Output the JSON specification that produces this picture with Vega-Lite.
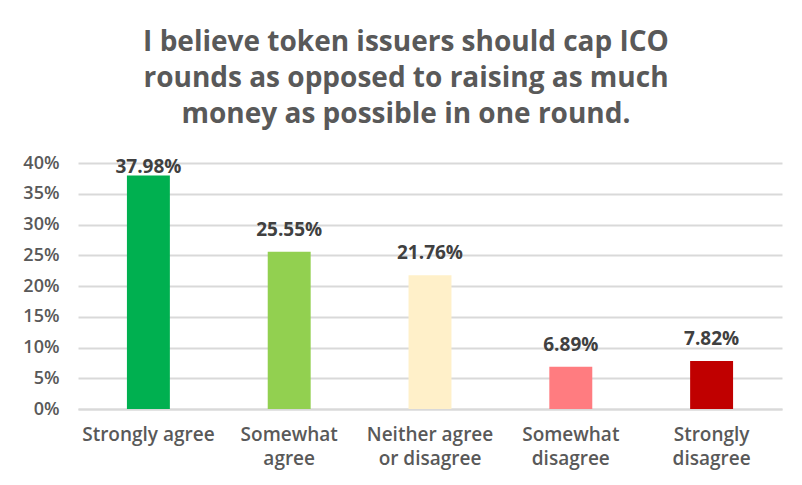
{
  "$schema": "https://vega.github.io/schema/vega-lite/v6.json",
  "width": 704,
  "height": 246,
  "autosize": {"type": "none"},
  "padding": {"left": 78, "top": 163, "right": 20, "bottom": 76},
  "background": "white",
  "config": {"view": {"stroke": null}},
  "title": {
    "text": ["I believe token issuers should cap ICO", "rounds as opposed to raising as much", "money as possible in one round."],
    "font": "Open Sans",
    "fontSize": 28,
    "fontWeight": "bold",
    "color": "#595959",
    "lineHeight": 36,
    "anchor": "middle",
    "dx": -24,
    "offset": 25
  },
  "data": {
    "values": [
      {"category": "Strongly agree", "share": 0.3798},
      {"category": "Somewhat agree", "share": 0.2555},
      {"category": "Neither agree or disagree", "share": 0.2176},
      {"category": "Somewhat disagree", "share": 0.0689},
      {"category": "Strongly disagree", "share": 0.0782}
    ]
  },
  "encoding": {
    "x": {
      "field": "category",
      "type": "nominal",
      "sort": null,
      "scale": {"paddingInner": 0.695, "paddingOuter": 0.3475},
      "axis": {
        "title": null,
        "labelAngle": 0,
        "labelFont": "Open Sans",
        "labelFontSize": 19,
        "labelFontWeight": 600,
        "labelColor": "#595959",
        "labelLineHeight": 24,
        "labelPadding": 16,
        "labelBaseline": "top",
        "labelExpr": "datum.label == 'Somewhat agree' ? ['Somewhat', 'agree'] : datum.label == 'Neither agree or disagree' ? ['Neither agree', 'or disagree'] : datum.label == 'Somewhat disagree' ? ['Somewhat', 'disagree'] : datum.label == 'Strongly disagree' ? ['Strongly', 'disagree'] : datum.label",
        "ticks": false,
        "domain": true,
        "domainColor": "#d9d9d9",
        "domainWidth": 2,
        "grid": false
      }
    }
  },
  "layer": [
    {
      "mark": {"type": "bar"},
      "encoding": {
        "y": {
          "field": "share",
          "type": "quantitative",
          "scale": {"domain": [0, 0.4], "nice": false},
          "axis": {
            "title": null,
            "format": ".0%",
            "values": [0, 0.05, 0.1, 0.15, 0.2, 0.25, 0.3, 0.35, 0.4],
            "labelOverlap": false,
            "labelFont": "Open Sans",
            "labelFontSize": 18,
            "labelFontWeight": 600,
            "labelColor": "#595959",
            "labelPadding": 19,
            "ticks": false,
            "domain": false,
            "grid": true,
            "gridColor": "#d9d9d9",
            "gridWidth": 2
          }
        },
        "color": {
          "field": "category",
          "type": "nominal",
          "sort": null,
          "legend": null,
          "scale": {
            "domain": ["Strongly agree", "Somewhat agree", "Neither agree or disagree", "Somewhat disagree", "Strongly disagree"],
            "range": ["#00b050", "#92d050", "#fff0c9", "#ff7c80", "#c00000"]
          }
        }
      }
    },
    {
      "transform": [{"calculate": "min(datum.share, 0.358)", "as": "labelPos"}],
      "mark": {"type": "text", "dy": -16, "baseline": "alphabetic", "font": "Open Sans", "fontSize": 19, "fontWeight": "bold", "color": "#404040"},
      "encoding": {
        "y": {
          "field": "labelPos",
          "type": "quantitative",
          "axis": {
            "title": null,
            "format": ".0%",
            "values": [0, 0.05, 0.1, 0.15, 0.2, 0.25, 0.3, 0.35, 0.4],
            "labelOverlap": false,
            "labelFont": "Open Sans",
            "labelFontSize": 18,
            "labelFontWeight": 600,
            "labelColor": "#595959",
            "labelPadding": 19,
            "ticks": false,
            "domain": false,
            "grid": true,
            "gridColor": "#d9d9d9",
            "gridWidth": 2
          }
        },
        "text": {"field": "share", "type": "quantitative", "format": ".2%"}
      }
    }
  ]
}
